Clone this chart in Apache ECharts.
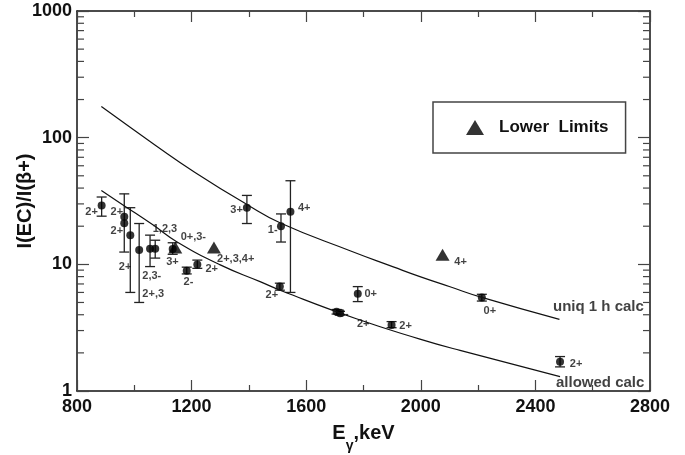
<!DOCTYPE html>
<html><head><meta charset="utf-8">
<script src="https://cdn.jsdelivr.net/npm/echarts@6/dist/echarts.min.js"></script>
<style>html,body{margin:0;padding:0;background:#fff}#c{width:685px;height:455px}</style>
</head><body><div id="c"></div>
<script>
// ---- data ----
const ptE   = [886, 965, 965, 986, 1017, 1055, 1073, 1134, 1183, 1220, 1393, 1512, 1545, 1508, 1780, 1706, 1718, 1898, 2213, 2486];
const ptR   = [29.1, 23.8, 21.1, 17.0, 13.0, 13.3, 13.3, 13.2, 8.9, 9.95, 28.0, 20.0, 26.0, 6.67, 5.87, 4.23, 4.11, 3.32, 5.46, 1.70];
const errLo = [24, 12.5, null, 6.0, 5.0, 9.6, 11.2, 12.0, 8.4, 9.3, 21, 15, 6.0, 6.25, 5.08, 4.05, 3.98, 3.16, 5.13, 1.55];
const errHi = [34, 36, null, 28, 21, 17, 15.5, 14.8, 9.5, 10.8, 35, 25, 45.7, 7.1, 6.67, 4.4, 4.25, 3.53, 5.8, 1.87];
const limE  = [1143, 1278, 2076];
const limR  = [13.6, 13.6, 11.9];
const uniqE = [885, 1072, 1212, 1393, 1512, 1753, 1904, 1997, 2102, 2213, 2484];
const uniqR = [176, 87.7, 53.2, 29.7, 21.1, 12.8, 9.55, 8.0, 6.65, 5.48, 3.68];
const allowE = [885, 967, 1066, 1148, 1300, 1439, 1520, 1770, 1997, 2137, 2486];
const allowR = [38.2, 28.8, 20.4, 15.1, 9.9, 7.3, 6.1, 3.75, 2.57, 2.09, 1.30];
const lblText = ['2+','2+','2+','2+','1,2,3','0+,3-','2,3-','3+','2-','2+','2+,3','2+,3,4+','3+','4+','1-','2+','0+','3-','2+','2+','4+','0+','2+'];
const lblE    = [851, 939, 939, 968, 1107, 1206, 1061, 1133, 1189, 1270, 1066, 1354, 1357, 1593, 1483, 1480, 1825, 1731, 1799, 1947, 2139, 2241, 2542];
const lblR    = [26.1, 25.8, 18.4, 9.5, 18.9, 16.5, 8.1, 10.4, 7.2, 9.15, 5.84, 11.0, 26.9, 28, 18.6, 5.73, 5.8, 4.03, 3.36, 3.28, 10.5, 4.28, 1.64];
const curveLblText = ['uniq 1 h calc', 'allowed calc'];
const curveLblE = [2620, 2626];
const curveLblR = [4.64, 1.16];
const xTicks = [800, 1200, 1600, 2000, 2400, 2800];
const yTicks = [1, 10, 100, 1000];
const yMinorMult = [2, 3, 4, 5, 6, 7, 8, 9];
// -------------------------------------

const FONT = 'Liberation Sans, Arial, Helvetica, sans-serif';
const yMinor = [];
yTicks.slice(0, -1).forEach(d => yMinorMult.forEach(m => yMinor.push([800, d * m])));

const chart = echarts.init(document.getElementById('c'));
const axisLine = {show: true, lineStyle: {color: '#111', width: 1.5}};
const xCommon = {
  type: 'value', min: xTicks[0], max: xTicks[xTicks.length - 1], interval: 400,
  axisLine: axisLine,
  axisTick: {show: true, inside: true, length: 11, lineStyle: {color: '#444', width: 1.2}},
  minorTick: {show: true, splitNumber: 2, length: 6, lineStyle: {color: '#444', width: 1.2}},
  splitLine: {show: false}, minorSplitLine: {show: false}
};
const yCommon = {
  type: 'log', logBase: 10, min: 1, max: 1000,
  axisLine: axisLine,
  axisTick: {show: true, inside: true, length: 12, lineStyle: {color: '#444', width: 1.2}},
  splitLine: {show: false}
};

chart.setOption({
  animation: false,
  backgroundColor: '#fff',
  grid: {left: 77, top: 11, right: 35, bottom: 64, containLabel: false, outerBoundsMode: 'none'},
  legend: {
    data: [{name: 'Lower  Limits', icon: 'triangle'}],
    selectedMode: false,
    left: 433, top: 102,
    padding: [17, 17, 17, 33],
    borderColor: '#444', borderWidth: 1.5,
    itemWidth: 18, itemHeight: 15,
    textStyle: {fontFamily: FONT, fontSize: 17, fontWeight: 'bold', color: '#111', padding: [0, 0, 0, 10]}
  },
  xAxis: [
    Object.assign({}, xCommon, {
      position: 'bottom',
      axisLabel: {fontFamily: FONT, fontSize: 18, fontWeight: 'bold', color: '#111', margin: 7, formatter: v => String(v)},
      name: '{a|E}{b|γ}{a|,keV}', nameLocation: 'middle', nameGap: 32,
      nameTextStyle: {rich: {
        a: {fontFamily: FONT, fontSize: 20, fontWeight: 'bold', color: '#111', lineHeight: 22, verticalAlign: 'top'},
        b: {fontFamily: FONT, fontSize: 14, fontWeight: 'bold', color: '#111', lineHeight: 30, verticalAlign: 'bottom'}
      }}
    }),
    Object.assign({}, xCommon, {position: 'top', axisLabel: {show: false}})
  ],
  yAxis: [
    Object.assign({}, yCommon, {
      position: 'left',
      axisLabel: {fontFamily: FONT, fontSize: 18, fontWeight: 'bold', color: '#111', margin: 5, formatter: v => String(v)},
      name: 'I(EC)/I(β+)', nameLocation: 'middle', nameGap: 42, nameMoveOverlap: false,
      nameTextStyle: {fontFamily: FONT, fontSize: 20, fontWeight: 'bold', color: '#111'}
    }),
    Object.assign({}, yCommon, {position: 'right', axisLabel: {show: false}})
  ],
  series: [
    { // minor log ticks, left and right
      type: 'custom', silent: true, data: yMinor, encode: {x: 0, y: 1},
      renderItem: function (params, api) {
        const cs = params.coordSys;
        const y = api.coord([800, api.value(1)])[1];
        const st = {stroke: '#444', lineWidth: 1.2};
        return {type: 'group', children: [
          {type: 'line', shape: {x1: cs.x, y1: y, x2: cs.x + 7, y2: y}, style: st},
          {type: 'line', shape: {x1: cs.x + cs.width - 7, y1: y, x2: cs.x + cs.width, y2: y}, style: st}
        ]};
      }
    },
    {
      type: 'line', name: 'uniq', data: uniqE.map((e, i) => [e, uniqR[i]]),
      smooth: 0.5, showSymbol: false, symbol: 'none', silent: true,
      lineStyle: {color: '#111', width: 1.2}
    },
    {
      type: 'line', name: 'allowed', data: allowE.map((e, i) => [e, allowR[i]]),
      smooth: 0.5, showSymbol: false, symbol: 'none', silent: true,
      lineStyle: {color: '#111', width: 1.2}
    },
    { // error bars
      type: 'custom', silent: true,
      data: ptE.map((e, i) => [e, errLo[i], errHi[i]]).filter(d => d[1] != null),
      encode: {x: 0, y: [1, 2]},
      renderItem: function (params, api) {
        const top = api.coord([api.value(0), api.value(2)]);
        const bot = api.coord([api.value(0), api.value(1)]);
        const st = {stroke: '#222', lineWidth: 1.3};
        const hw = 5;
        return {type: 'group', children: [
          {type: 'line', shape: {x1: top[0], y1: top[1], x2: bot[0], y2: bot[1]}, style: st},
          {type: 'line', shape: {x1: top[0] - hw, y1: top[1], x2: top[0] + hw, y2: top[1]}, style: st},
          {type: 'line', shape: {x1: bot[0] - hw, y1: bot[1], x2: bot[0] + hw, y2: bot[1]}, style: st}
        ]};
      }
    },
    {
      type: 'scatter', name: 'points', data: ptE.map((e, i) => [e, ptR[i]]),
      symbol: 'circle', symbolSize: 8, silent: true,
      itemStyle: {color: '#000'}
    },
    {
      type: 'scatter', name: 'Lower  Limits', data: limE.map((e, i) => [e, limR[i]]),
      symbol: 'triangle', symbolSize: [14, 12], silent: true,
      itemStyle: {color: '#000'}
    },
    {
      type: 'scatter', name: 'labels', data: lblE.map((e, i) => [e, lblR[i], lblText[i]]),
      symbolSize: 1, itemStyle: {color: 'rgba(0,0,0,0)'}, silent: true,
      label: {show: true, position: 'inside', formatter: p => p.data[2],
        fontFamily: FONT, fontSize: 11, fontWeight: 'bold', color: '#111'}
    },
    {
      type: 'scatter', name: 'curveLabels', data: curveLblE.map((e, i) => [e, curveLblR[i], curveLblText[i]]),
      symbolSize: 1, itemStyle: {color: 'rgba(0,0,0,0)'}, silent: true,
      label: {show: true, position: 'inside', formatter: p => p.data[2],
        fontFamily: FONT, fontSize: 15, fontWeight: 'bold', color: '#111'}
    }
  ]
});
</script></body></html>
